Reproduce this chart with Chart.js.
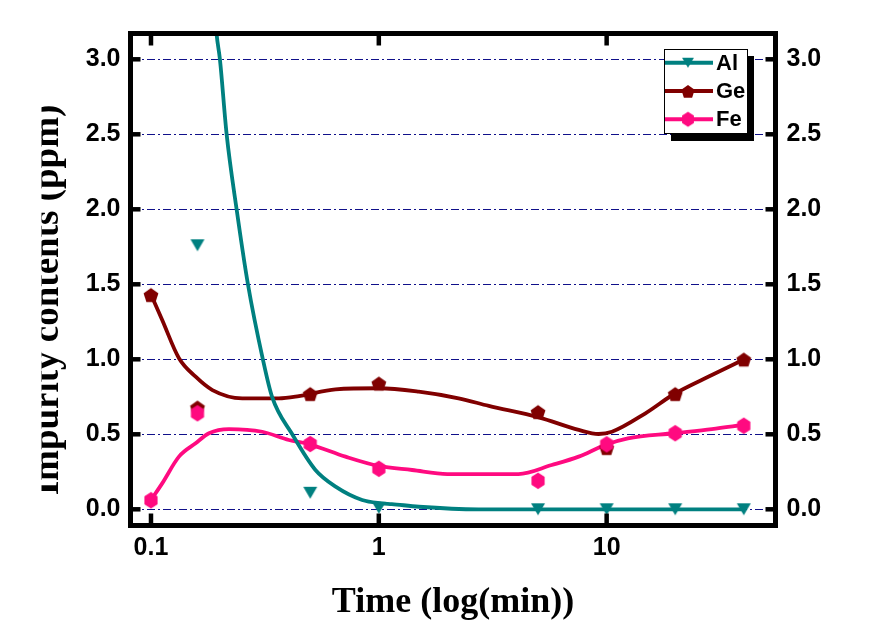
<!DOCTYPE html>
<html><head><meta charset="utf-8">
<script src="https://cdn.jsdelivr.net/npm/chart.js@4/dist/chart.umd.min.js"></script>
<style>html,body{margin:0;padding:0;background:#fff;overflow:hidden}#wrap{width:882px;height:641px;position:relative}</style>
</head><body><div id="wrap"><canvas id="c" width="882" height="641"></canvas></div>
<script>
// ---- data ----
const timeTicks = [0.1, 1, 10];
const timeTickLabels = ['0.1', '1', '10'];
const yTicks = [0, 0.5, 1.0, 1.5, 2.0, 2.5, 3.0];
const yTickLabels = ['0.0', '0.5', '1.0', '1.5', '2.0', '2.5', '3.0'];
const seriesNames = ['Al', 'Ge', 'Fe'];

const times = [0.1, 0.16, 0.5, 1, 5, 10, 20, 40];
const alValues = [null, 1.76, 0.11, 0.01, 0.0, 0.0, 0.0, 0.0];
const geValues = [1.43, 0.68, 0.77, 0.84, 0.65, 0.41, 0.77, 1.0];
const feValues = [0.06, 0.64, 0.435, 0.27, 0.19, 0.433, 0.507, 0.557];

// fitted curves
const alFitX = [0.185, 0.194, 0.2007, 0.2148, 0.2376, 0.2664, 0.3098, 0.34, 0.417, 0.527, 0.646, 0.845, 1.03, 1.14, 1.5, 2.74, 40];
const alFitY = [3.6, 3.17, 3.0, 2.5, 2.0, 1.5, 1.0, 0.75, 0.5, 0.262, 0.151, 0.062, 0.04, 0.035, 0.017, 0.0, 0.0];
const geFitX = [0.1, 0.112, 0.1327, 0.157, 0.186, 0.2515, 0.364, 0.446, 0.646, 1.0, 1.497, 2.24, 3.04, 5.03, 7.54, 9.22, 10.55, 14.8, 19.7, 28.97, 39.6];
const geFitY = [1.433, 1.262, 1.007, 0.884, 0.795, 0.74, 0.74, 0.755, 0.80, 0.807, 0.784, 0.74, 0.689, 0.613, 0.529, 0.502, 0.517, 0.64, 0.767, 0.895, 0.995];
const feFitX = [0.1, 0.112, 0.1327, 0.157, 0.1797, 0.22, 0.3078, 0.403, 0.493, 0.714, 1.0, 1.4, 2.0, 4.1, 5.74, 7.54, 9.85, 12.4, 19.7, 28.97, 39.6];
const feFitY = [0.062, 0.173, 0.351, 0.44, 0.507, 0.535, 0.517, 0.462, 0.435, 0.351, 0.289, 0.262, 0.235, 0.235, 0.295, 0.351, 0.429, 0.473, 0.507, 0.535, 0.562];

const colors = {Al: '#008080', Ge: '#800000', Fe: '#ff0a80'};

// ---- helpers ----
function pts(xs, ys) { return xs.map((x, i) => ({x: x, y: ys[i]})).filter(p => p.y !== null); }
function makeMarker(color, shape, s) {
  const c = document.createElement('canvas'); c.width = 18; c.height = 18;
  const g = c.getContext('2d'); g.fillStyle = color; g.beginPath();
  const cx = 9, cy = 9;
  if (shape === 'tri') { g.moveTo(9 - 7 * s, 9 - 6 * s); g.lineTo(9 + 7 * s, 9 - 6 * s); g.lineTo(9, 9 + 6 * s); }
  else if (shape === 'pent') {
    for (let i = 0; i < 5; i++) { const a = -Math.PI / 2 + i * 2 * Math.PI / 5; g.lineTo(cx + 7.8 * s * Math.cos(a), cy + 1 + 7.8 * s * Math.sin(a)); }
  } else {
    for (let i = 0; i < 6; i++) { const a = -Math.PI / 2 + i * Math.PI / 3; g.lineTo(cx + 7.6 * s * Math.cos(a), cy + 8.2 * s * Math.sin(a)); }
  }
  g.closePath(); g.fill(); return c;
}
const mk = {Al: makeMarker(colors.Al, 'tri', 1), Ge: makeMarker(colors.Ge, 'pent', 1), Fe: makeMarker(colors.Fe, 'hex', 1)};
const mkLeg = {Al: makeMarker(colors.Al, 'tri', 0.85), Ge: makeMarker(colors.Ge, 'pent', 0.9), Fe: makeMarker(colors.Fe, 'hex', 0.9)};

const tickFont = {family: '"Liberation Sans", Arial, sans-serif', size: 25, weight: 'bold'};

const decorPlugin = {
  id: 'decor',
  afterDraw(chart) {
    const {ctx, chartArea: a, scales} = chart;
    ctx.save();
    // frame
    ctx.strokeStyle = '#000'; ctx.lineWidth = 5;
    ctx.strokeRect(a.left, a.top, a.right - a.left, a.bottom - a.top);
    // inside ticks
    ctx.lineWidth = 4.5;
    const line = (x1, y1, x2, y2) => { ctx.beginPath(); ctx.moveTo(x1, y1); ctx.lineTo(x2, y2); ctx.stroke(); };
    for (const v of yTicks) { const y = scales.y.getPixelForValue(v); line(a.left, y, a.left + 10, y); line(a.right - 10, y, a.right, y); }
    for (const v of timeTicks) { const x = scales.x.getPixelForValue(v); line(x, a.bottom, x, a.bottom - 12); line(x, a.top, x, a.top + 12); }
    // legend with shadow
    const L = 664, T = 49, W = 83, H = 84;
    ctx.fillStyle = '#000'; ctx.fillRect(L + 7, T + 7, W, H + 1);
    ctx.fillStyle = '#fff'; ctx.fillRect(L, T, W, H);
    ctx.lineWidth = 1; ctx.strokeStyle = '#000'; ctx.strokeRect(L + 0.5, T + 0.5, W, H);
    const rows = [62.7, 91, 119.3];
    ctx.font = 'bold 22px "Liberation Sans", Arial, sans-serif';
    ctx.textBaseline = 'middle'; ctx.textAlign = 'left';
    seriesNames.forEach((n, i) => {
      const y = rows[i];
      ctx.strokeStyle = colors[n]; ctx.lineWidth = 4;
      line(L + 1, y, L + 49, y);
      ctx.drawImage(mkLeg[n], 688 - 9, y - 9);
      ctx.fillStyle = '#000'; ctx.fillText(n, 716, y + 1);
    });
    // axis titles
    ctx.fillStyle = '#000';
    ctx.font = 'bold 36px "Liberation Serif", "Times New Roman", serif';
    ctx.textAlign = 'center'; ctx.textBaseline = 'alphabetic';
    ctx.fillText('Time (log(min))', (a.left + a.right) / 2, 612);
    ctx.save();
    ctx.beginPath(); ctx.rect(41.5, 0, 900, 700); ctx.clip();
    ctx.translate(58, 300); ctx.rotate(-Math.PI / 2);
    ctx.font = 'bold 37px "Liberation Serif", "Times New Roman", serif';
    ctx.fillText('Impurity contents (ppm)', 0, 0);
    ctx.restore();
    ctx.restore();
  }
};

const curveBase = {showLine: true, pointRadius: 0, borderWidth: 3.8, fill: false, cubicInterpolationMode: 'monotone', clip: 0};
const markBase = {showLine: false, pointRadius: 8};

new Chart(document.getElementById('c'), {
  type: 'scatter',
  data: {
    datasets: [
      Object.assign({label: 'Ge fit', data: pts(geFitX, geFitY), borderColor: colors.Ge, order: 7}, curveBase),
      Object.assign({label: 'Fe fit', data: pts(feFitX, feFitY), borderColor: colors.Fe, order: 6}, curveBase),
      Object.assign({label: 'Al fit', data: pts(alFitX, alFitY), borderColor: colors.Al, order: 5}, curveBase),
      Object.assign({label: 'Al', data: pts(times, alValues), pointStyle: mk.Al, order: 3}, markBase),
      Object.assign({label: 'Ge', data: pts(times, geValues), pointStyle: mk.Ge, order: 2}, markBase),
      Object.assign({label: 'Fe', data: pts(times, feValues), pointStyle: mk.Fe, order: 1}, markBase)
    ]
  },
  options: {
    responsive: false, animation: false, devicePixelRatio: 1,
    layout: {padding: {left: 0, right: 0, top: 33.5, bottom: 0}},
    plugins: {legend: {display: false}, tooltip: {enabled: false}},
    scales: {
      x: {
        type: 'logarithmic', position: 'bottom', min: 0.0813, max: 55.1,
        afterBuildTicks: s => { s.ticks = timeTicks.map(v => ({value: v})); },
        afterFit: s => { s.height = 115.5; },
        grid: {display: false, drawTicks: false}, border: {display: false},
        ticks: {callback: v => { const i = timeTicks.indexOf(v); return i >= 0 ? timeTickLabels[i] : ''; },
          font: tickFont, color: '#000', padding: 8, maxRotation: 0, autoSkip: false}
      },
      y: {
        min: -0.108, max: 3.172, position: 'left',
        afterBuildTicks: s => { s.ticks = yTicks.map(v => ({value: v})); },
        afterFit: s => { s.width = 130.5; },
        grid: {color: '#10108a', lineWidth: 1, drawTicks: false},
        border: {display: false, dash: [8, 3, 2, 3]},
        ticks: {callback: v => { const i = yTicks.indexOf(v); return i >= 0 ? yTickLabels[i] : ''; },
          font: tickFont, color: '#000', padding: 10}
      },
      y2: {
        min: -0.108, max: 3.172, position: 'right',
        afterBuildTicks: s => { s.ticks = yTicks.map(v => ({value: v})); },
        afterFit: s => { s.width = 106.5; },
        grid: {display: false, drawTicks: false}, border: {display: false},
        ticks: {callback: v => { const i = yTicks.indexOf(v); return i >= 0 ? yTickLabels[i] : ''; },
          font: tickFont, color: '#000', padding: 11}
      }
    }
  },
  plugins: [decorPlugin]
});
</script>
</body></html>
